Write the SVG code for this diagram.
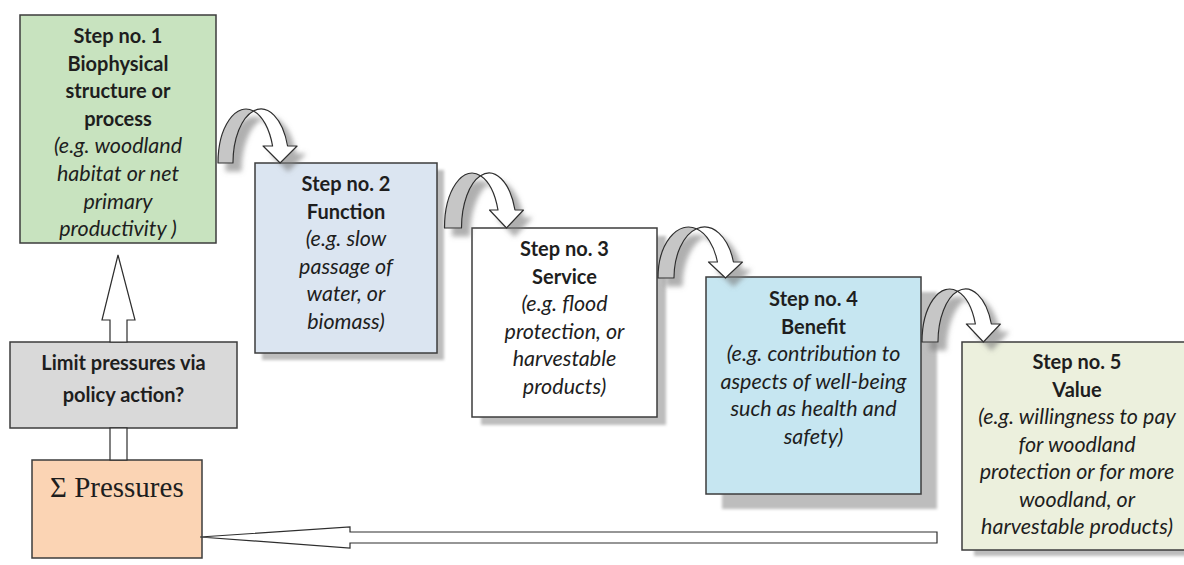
<svg xmlns="http://www.w3.org/2000/svg" width="1184" height="565" viewBox="0 0 1184 565">
  <defs>
    <filter id="boxShadowBlur" x="-10%" y="-10%" width="120%" height="120%">
      <feGaussianBlur stdDeviation="1.5"/>
    </filter>
    <filter id="arrowShadow" x="-30%" y="-30%" width="160%" height="160%">
      <feDropShadow dx="8" dy="8" stdDeviation="2.5" flood-color="#7a7a7a" flood-opacity="0.6"/>
    </filter>
  </defs>
  <style>
    .box { stroke: #3c3c3c; stroke-width: 1.5; }
    .shadow { fill: #bdbdbd; filter: url(#boxShadowBlur); }
    .t { font-family: Lato, "Liberation Sans", sans-serif; fill: #1e1e1e; text-anchor: middle; }
    .b { font-weight: bold; font-size: 20px; }
    .i { font-style: italic; font-size: 21.5px; }
    .back { fill: #c6c6c6; stroke: #2e2e2e; stroke-width: 1.2; stroke-linejoin: round; }
    .front { fill: #ffffff; stroke: #2e2e2e; stroke-width: 1.2; stroke-linejoin: round; }
    .block { fill: #ffffff; stroke: #2e2e2e; stroke-width: 1.2; stroke-linejoin: miter; }
  </style>
  <rect width="1184" height="565" fill="#ffffff"/>

  <!-- Step 1 -->
  <g id="step1">
    <rect class="box" x="20" y="15" width="196" height="228" fill="#c8e3bf"/>
    <text class="t b" x="118" y="43">Step no. 1</text>
    <text class="t b" x="118" y="70.6">Biophysical</text>
    <text class="t b" x="118" y="98.2">structure or</text>
    <text class="t b" x="118" y="125.8">process</text>
    <text class="t i" x="118" y="153.4">(e.g. woodland</text>
    <text class="t i" x="118" y="181">habitat or net</text>
    <text class="t i" x="118" y="208.6">primary</text>
    <text class="t i" x="118" y="236.2">productivity )</text>
  </g>

  <!-- Step 2 -->
  <g id="step2">
    <rect class="shadow" x="262" y="170" width="182" height="190"/>
    <rect class="box" x="255" y="163" width="182" height="190" fill="#dbe5f1"/>
    <text class="t b" x="346" y="191">Step no. 2</text>
    <text class="t b" x="346" y="218.5">Function</text>
    <text class="t i" x="346" y="246">(e.g. slow</text>
    <text class="t i" x="346" y="273.5">passage of</text>
    <text class="t i" x="346" y="301">water, or</text>
    <text class="t i" x="346" y="328.5">biomass)</text>
  </g>

  <!-- Step 3 -->
  <g id="step3">
    <rect class="shadow" x="481" y="236" width="185" height="189"/>
    <rect class="box" x="472" y="228" width="185" height="189" fill="#ffffff"/>
    <text class="t b" x="564.5" y="256">Step no. 3</text>
    <text class="t b" x="564.5" y="283.5">Service</text>
    <text class="t i" x="564.5" y="311">(e.g. flood</text>
    <text class="t i" x="564.5" y="338.5">protection, or</text>
    <text class="t i" x="564.5" y="366">harvestable</text>
    <text class="t i" x="564.5" y="393.5">products)</text>
  </g>

  <!-- Step 4 -->
  <g id="step4">
    <rect class="shadow" x="722" y="292" width="215" height="217"/>
    <rect class="box" x="706" y="277" width="215" height="217" fill="#c6e6f1"/>
    <text class="t b" x="813.5" y="306">Step no. 4</text>
    <text class="t b" x="813.5" y="333.5">Benefit</text>
    <text class="t i" x="813.5" y="361">(e.g. contribution to</text>
    <text class="t i" x="813.5" y="388.5">aspects of well-being</text>
    <text class="t i" x="813.5" y="416">such as health and</text>
    <text class="t i" x="813.5" y="443.5">safety)</text>
  </g>

  <!-- Step 5 (runs past the right edge) -->
  <g id="step5">
    <rect class="shadow" x="974" y="348" width="230" height="208"/>
    <rect class="box" x="962" y="342" width="240" height="208" fill="#ecf0dd"/>
    <text class="t b" x="1077" y="369">Step no. 5</text>
    <text class="t b" x="1077" y="396.5">Value</text>
    <text class="t i" x="1077" y="424">(e.g. willingness to pay</text>
    <text class="t i" x="1077" y="451.5">for woodland</text>
    <text class="t i" x="1077" y="479">protection or for more</text>
    <text class="t i" x="1077" y="506.5">woodland, or</text>
    <text class="t i" x="1077" y="534">harvestable products)</text>
  </g>

  <!-- Policy box -->
  <g id="policy">
    <rect class="box" x="10" y="342" width="227" height="86" fill="#d9d9d9"/>
    <text class="t b" x="123.5" y="370">Limit pressures via</text>
    <text class="t b" x="123.5" y="401.5">policy action?</text>
  </g>

  <!-- Pressures box -->
  <g id="pressures">
    <rect class="box" x="32" y="460" width="170" height="98" fill="#fbd4b4"/>
    <text x="50" y="497" font-family="'Liberation Serif', 'Times New Roman', serif" font-size="29" fill="#1e1e1e">Σ Pressures</text>
  </g>

  <!-- Connectors -->
  <g id="connectors">
    <!-- curved arrow step 1 to step 2 -->
    <g filter="url(#arrowShadow)">
      <path class="back" d="M 218 163 A 28 54 0 0 1 253.5 110.97 A 28 54 0 0 0 233 163 Z"/>
      <path class="front" d="M 253.5 110.97 A 28 54 0 0 1 287.58 146 L 297.1 146 L 280.1 163 L 263.1 146 L 272.58 146 A 28 54 0 0 0 253.5 110.97 Z"/>
    </g>
    <!-- curved arrow step 2 to step 3 -->
    <g filter="url(#arrowShadow)">
      <path class="back" d="M 444.5 228 A 27.5 55 0 0 1 480.5 175.69 A 27.5 55 0 0 0 461.5 228 Z"/>
      <path class="front" d="M 480.5 175.69 A 27.5 55 0 0 1 514.99 210 L 523.5 210 L 506.5 228 L 489.5 210 L 497.99 210 A 27.5 55 0 0 0 480.5 175.69 Z"/>
    </g>
    <!-- curved arrow step 3 to step 4 -->
    <g filter="url(#arrowShadow)">
      <path class="back" d="M 658 278 A 30.5 51 0 0 1 696.5 228.79 A 30.5 51 0 0 0 674 278 Z"/>
      <path class="front" d="M 696.5 228.79 A 30.5 51 0 0 1 733.46 262 L 742.5 262 L 725.5 278 L 708.5 262 L 717.46 262 A 30.5 51 0 0 0 696.5 228.79 Z"/>
    </g>
    <!-- curved arrow step 4 to step 5 -->
    <g filter="url(#arrowShadow)">
      <path class="back" d="M 922 342 A 27.5 53 0 0 1 957.5 291.29 A 27.5 53 0 0 0 938 342 Z"/>
      <path class="front" d="M 957.5 291.29 A 27.5 53 0 0 1 991.37 324 L 1000.4 324 L 983.4 342 L 966.4 324 L 975.37 324 A 27.5 53 0 0 0 957.5 291.29 Z"/>
    </g>

    <!-- policy box up to step 1 -->
    <polygon class="block" points="110,342 110,320 102,320 118,255 135,320 127,320 127,342"/>
    <!-- pressures up to policy box -->
    <rect class="block" x="110" y="428" width="17" height="32"/>
    <!-- feedback from value back to pressures -->
    <polygon class="block" points="937,532 350,532 350,527 200,537 350,548 350,543 937,543"/>
  </g>
</svg>
